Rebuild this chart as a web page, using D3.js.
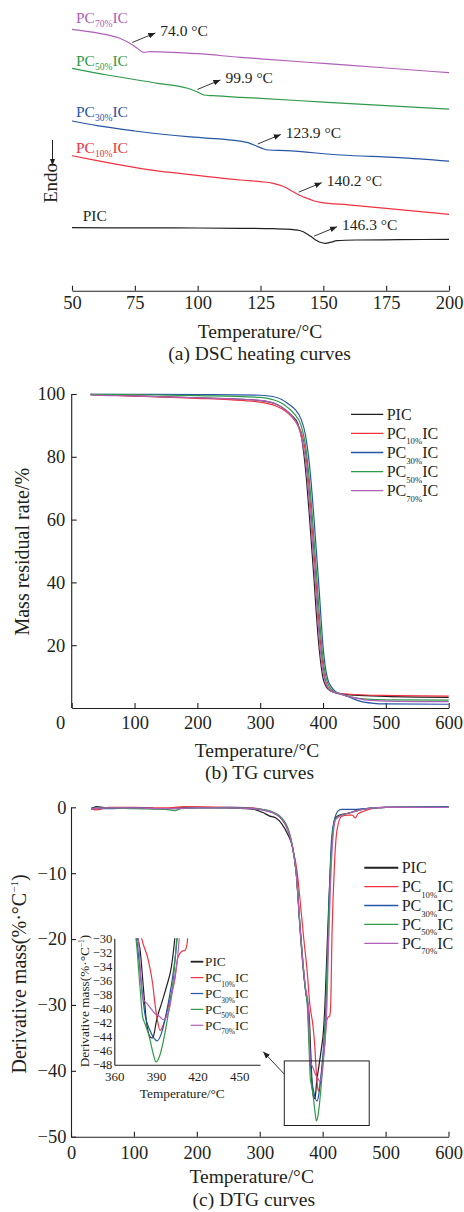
<!DOCTYPE html>
<html lang="en">
<head>
<meta charset="UTF-8">
<title>DSC, TG and DTG curves</title>
<script src="https://cdn.jsdelivr.net/npm/d3@7"></script>
<style>
  body { margin: 0; background: #fff; }
  svg { display: block; }
  text { font-family: "Liberation Serif", "Times New Roman", serif; fill: #231f20; }
  .domain, .tick line { stroke: #231f20; stroke-width: 1.1px; }
  .curve { fill: none; stroke-width: 1.2px; }
</style>
</head>
<body>
<svg width="464" height="1212"></svg>
<script>
// ---- data ----
const names = ["PIC", "PC", "PC", "PC", "PC"];
const subs = ["", "10%", "30%", "50%", "70%"];
const colors = ["#231f20", "#ef3340", "#2656a6", "#2f9a48", "#b060b8"];

// (a) DSC heat flow, arbitrary units (curves are offset)
const dscPIC = [[50,6.30],[80,6.28],[100,6.27],[117,6.24],[130,6.2],[137,6.14],[140,6.05],[142,5.9],[144,5.6],[145.5,5.34],[147.5,5.0],[148.8,4.84],[150.8,4.74],[153,4.85],[155.4,5.0],[163,5.07],[180,5.1],[200,5.14]];
const dscPC10 = [[50,13.5],[60,13.0],[77,12.24],[90,11.8],[104,11.4],[117,11.07],[125,10.9],[130,10.74],[134,10.45],[138,9.9],[141,9.5],[143.5,9.24],[146,9.0],[148.8,8.84],[160,8.58],[175,8.23],[200,7.64]];
const dscPC30 = [[50,16.97],[60,16.5],[75,15.97],[96,15.4],[110,15.15],[117,14.95],[120,14.8],[123.6,14.45],[126,14.2],[128.2,14.07],[135,14.0],[157,13.57],[180,13.3],[200,12.95]];
const dscPC50 = [[50,22.24],[64,21.57],[84,20.74],[96,20.24],[99.7,19.9],[102.4,19.57],[106,19.5],[117,19.34],[125,19.24],[150,18.85],[175,18.5],[200,18.15]];
const dscPC70 = [[50,26.14],[60,25.78],[69,25.24],[73,24.74],[76,24.24],[78.5,23.84],[81,23.9],[90,23.84],[100,23.7],[117,23.34],[125,23.19],[150,22.73],[175,22.27],[200,21.8]];
const tgValues = [146.3, 140.2, 123.9, 99.9, 74.0];   // PIC, PC10, PC30, PC50, PC70

// (b) TG, mass residual rate %
const massPIC = [[30,99.8],[60,99.6],[100,99.4],[150,99.1],[200,98.8],[250,98.5],[300,97.9],[325,96.8],[340,95],[350,93.2],[360,90.5],[366,86],[370,80],[374,72],[378,62],[382,51],[386,40],[389,31],[392,23],[396,15],[400,9.5],[405,6.8],[412,5.4],[425,4.6],[450,4.1],[500,3.7],[600,3.4]];
const massPC10 = [[30,99.9],[60,99.6],[100,99.3],[150,99.0],[200,98.6],[250,98.2],[300,97.4],[325,96.2],[340,94.6],[350,92.8],[360,90],[368,86],[373,80],[377,72],[381,62],[385,51],[389,40],[392,31],[395,23],[399,15],[403,9.5],[408,6.6],[414,5.3],[425,4.7],[450,4.3],[500,4.0],[600,3.8]];
const massPC30 = [[30,99.9],[100,99.9],[200,99.8],[300,99.6],[320,99.2],[335,98.2],[345,96.8],[355,95.2],[365,92],[372,87],[377,80],[381,72],[385,62],[389,51],[393,40],[396,31],[399,22],[403,14],[407,9.5],[413,6.8],[420,5.2],[428,4.5],[445,3.2],[460,2.1],[480,1.5],[500,1.3],[600,1.2]];
const massPC50 = [[30,99.9],[100,99.8],[200,99.5],[300,98.9],[320,98.2],[335,97],[345,95.5],[355,93.5],[365,90],[371,85],[375,79],[379,71],[383,61],[387,50],[391,39],[394,30],[397,22],[401,14],[405,9.5],[411,6.5],[418,5.1],[426,4.6],[445,3.5],[470,2.8],[500,2.6],[600,2.5]];
const massPC70 = [[30,99.7],[60,99.5],[100,99.4],[150,99.1],[200,98.8],[250,98.5],[300,98.0],[325,96.8],[340,95],[350,93],[360,90],[367,85],[372,79],[376,71],[380,61],[384,50],[388,39],[391,30],[394,22],[398,14],[402,9.5],[407,6.6],[414,5.3],[425,4.6],[445,3.5],[470,2.5],[500,2.2],[600,2.0]];

// (c) DTG, %/°C
const dtgPIC = [[32,-0.3],[40,0.1],[60,-0.1],[100,-0.1],[150,-0.2],[200,0],[250,-0.1],[290,-0.3],[305,-0.8],[315,-1.3],[325,-1.6],[335,-2.5],[345,-4.2],[352,-6],[358,-10],[364.4,-19],[369.7,-25.2],[374,-28.5],[378.5,-31.5],[380.9,-36.9],[383.3,-42.1],[385.7,-44],[387.3,-44.2],[388.8,-43.5],[390,-42.1],[394,-39.3],[397.6,-36.9],[401.2,-34],[403.6,-30],[406,-24],[410,-14],[415,-5],[420,-1.6],[426,-1.2],[440,-0.9],[457,-0.4],[475,-0.15],[500,0],[550,0],[600,0.05]];
const dtgPC10 = [[32,-0.2],[40,-0.4],[60,0],[100,0],[150,-0.1],[180,0.1],[250,0],[290,-0.1],[310,-0.5],[325,-1.0],[335,-1.8],[345,-3.5],[353,-6.5],[359,-9.5],[364,-14],[370,-20],[375,-24.5],[379.7,-30],[384.5,-33.1],[387.6,-36.4],[389.3,-39.3],[391,-41.6],[393,-43.1],[396.5,-41.6],[400,-38.8],[403.6,-35.9],[406,-32.6],[408.4,-31.9],[411,-31.7],[412.5,-30.7],[414.9,-19],[418.6,-9],[422.9,-3.4],[430,-1.4],[440,-1.2],[447,-1.2],[452,-1.6],[456,-1],[465,-0.6],[480,-0.15],[500,0],[600,0]];
const dtgPC30 = [[32,-0.1],[50,-0.2],[100,-0.1],[150,-0.2],[200,-0.1],[250,0],[290,-0.2],[310,-0.5],[325,-1.0],[335,-1.8],[345,-3.5],[352,-6],[358,-10],[364,-18],[369,-24],[373,-28],[376,-30],[379.7,-36.9],[382,-40.7],[385.7,-43.1],[391,-44.6],[394,-43.5],[398.8,-39.3],[402.4,-35],[405.3,-30],[408,-22],[411,-12],[414,-5],[419,-1.8],[425,-0.5],[430,-0.3],[450,-0.3],[480,-0.1],[500,0],[600,0.1]];
const dtgPC50 = [[32,-0.2],[60,-0.1],[100,-0.2],[150,-0.3],[165,-0.5],[175,-0.2],[200,-0.1],[250,-0.1],[290,-0.2],[310,-0.4],[325,-0.9],[335,-1.6],[345,-3.2],[352,-5.8],[358,-10],[364,-18],[369,-24],[373,-28],[375.6,-30],[378.5,-36.9],[380.4,-41.2],[382,-42.1],[385.2,-44],[388,-46.4],[390,-47.6],[392.4,-46.9],[396.5,-43.5],[400,-39.3],[403,-35],[405,-30],[408,-22],[411,-13],[415,-5],[420,-1.8],[430,-1.2],[445,-0.8],[460,-0.4],[480,-0.1],[500,0],[600,0]];
const dtgPC70 = [[32,-0.2],[60,-0.1],[100,-0.1],[150,-0.2],[200,-0.1],[250,-0.1],[290,-0.2],[310,-0.5],[325,-1.0],[335,-1.8],[345,-3.5],[352,-6],[358,-10],[364,-18],[369,-24],[373,-27.5],[377.3,-30],[379.2,-35.9],[380.4,-38.5],[384.5,-39.5],[389.3,-40.7],[393,-41.2],[395.2,-41.6],[398.8,-40.7],[402.4,-36.9],[406.8,-30],[409,-22],[412,-13],[416,-5],[421,-1.8],[430,-1.2],[445,-0.8],[460,-0.4],[480,-0.1],[500,0],[600,0]];

const dscData = [dscPIC, dscPC10, dscPC30, dscPC50, dscPC70];
const massData = [massPIC, massPC10, massPC30, massPC50, massPC70];
const dtgData = [dtgPIC, dtgPC10, dtgPC30, dtgPC50, dtgPC70];

const xTicksA = [50, 75, 100, 125, 150, 175, 200];
const xTicksT = [0, 100, 200, 300, 400, 500, 600];
const yTicksTG = [20, 40, 60, 80, 100];
const yTicksDTG = [0, -10, -20, -30, -40, -50];
const xTicksInset = [360, 390, 420, 450];
const yTicksInset = [-30, -32, -34, -36, -38, -40, -42, -44, -46, -48];
const zoomBox = [[339, -38.5], [474, -48.3]];   // rectangle marked in (c)

// ---- drawing ----
const svg = d3.select("svg");
const ink = "#231f20";

svg.append("defs").append("marker")
    .attr("id", "arrow")
    .attr("viewBox", "0 -5 10 10")
    .attr("refX", 10)
    .attr("refY", 0)
    .attr("markerWidth", 7)
    .attr("markerHeight", 7)
    .attr("markerUnits", "userSpaceOnUse")
    .attr("orient", "auto")
    .append("path")
    .attr("d", "M0,-4L10,0L0,4Z")
    .attr("fill", ink);

// writes "PIC" or "PC<sub>IC" into a text element
function seriesLabel(text, i, subSize, subDy) {
    if (!subs[i]) { text.append("tspan").text(names[i]); return; }
    text.append("tspan").text("PC");
    text.append("tspan").attr("font-size", subSize).attr("dy", subDy).text(subs[i]);
    text.append("tspan").attr("dy", -subDy).text("IC");
}

function styleAxis(g, size) {
    g.attr("font-family", null).attr("font-size", size);
    g.selectAll(".tick text").attr("fill", ink);
}

function lineFor(x, y) {
    return d3.line().x(d => x(d[0])).y(d => y(d[1])).curve(d3.curveMonotoneX);
}

// ===== (a) DSC =====
const xA = d3.scaleLinear().domain([50, 200]).range([72, 449]);
const yA = d3.scaleLinear().domain([0, 29]).range([290.7, 0.7]);
const lineA = lineFor(xA, yA);

svg.append("g")
    .attr("transform", "translate(0,290.7)")
    .call(d3.axisBottom(xA).tickValues(xTicksA).tickSizeInner(-5).tickSizeOuter(0).tickPadding(5.5))
    .call(g => styleAxis(g, 18.5));

svg.append("g").selectAll("path")
    .data(dscData)
    .join("path")
    .attr("class", "curve")
    .attr("stroke", (d, i) => colors[i])
    .attr("d", lineA);

// series names on the left
const dscLabelPos = [[82.7, 221], [76, 153.3], [76, 117.3], [76, 66], [76, 23.3]];
dscData.forEach((d, i) => {
    const t = svg.append("text")
        .attr("x", dscLabelPos[i][0])
        .attr("y", dscLabelPos[i][1])
        .attr("font-size", 15.5)
        .style("fill", colors[i]);
    seriesLabel(t, i, 9.5, 4);
});

// glass transition annotations
function valueAt(data, t) {
    for (let k = 1; k < data.length; k++) {
        if (data[k][0] >= t) {
            const a = data[k - 1], b = data[k];
            return a[1] + (b[1] - a[1]) * (t - a[0]) / (b[0] - a[0]);
        }
    }
    return data[data.length - 1][1];
}
tgValues.forEach((tg, i) => {
    const x0 = xA(tg), y0 = yA(valueAt(dscData[i], tg)) - 2.5;
    const x1 = x0 + 23, y1 = y0 - 9.5;
    svg.append("line")
        .attr("x1", x0).attr("y1", y0)
        .attr("x2", x1).attr("y2", y1)
        .attr("stroke", ink)
        .attr("stroke-width", 0.9)
        .attr("marker-end", "url(#arrow)");
    svg.append("text")
        .attr("x", x1 + 5)
        .attr("y", y1 + 3)
        .attr("font-size", 15.5)
        .text(tg.toFixed(1) + " °C");
});

// Endo label with a downward arrow
svg.append("text")
    .attr("transform", "translate(57.3,203) rotate(-90)")
    .attr("font-size", 19)
    .text("Endo");
svg.append("line")
    .attr("x1", 52.5).attr("y1", 140)
    .attr("x2", 52.5).attr("y2", 165.5)
    .attr("stroke", ink)
    .attr("stroke-width", 1)
    .attr("marker-end", "url(#arrow)");

svg.append("text").attr("x", 260).attr("y", 338.3).attr("text-anchor", "middle")
    .attr("font-size", 19.5).text("Temperature/°C");
svg.append("text").attr("x", 259.5).attr("y", 359.5).attr("text-anchor", "middle")
    .attr("font-size", 19.5).text("(a) DSC heating curves");

// ===== (b) TG =====
const xB = d3.scaleLinear().domain([0, 600]).range([71.7, 448.7]);
const yB = d3.scaleLinear().domain([0, 100]).range([708, 394]);
const lineB = lineFor(xB, yB);

svg.append("g")
    .attr("transform", "translate(0,708)")
    .call(d3.axisBottom(xB).tickValues(xTicksT).tickSizeInner(-5).tickSizeOuter(0).tickPadding(8))
    .call(g => styleAxis(g, 18.5))
    .call(g => g.selectAll(".tick text").filter(d => d === 0).attr("dx", -11.5));

svg.append("g")
    .attr("transform", "translate(71.7,0)")
    .call(d3.axisLeft(yB).tickValues(yTicksTG).tickSizeInner(-5).tickSizeOuter(0).tickPadding(6.5))
    .call(g => styleAxis(g, 18.5))
    .call(g => g.select(".domain").attr("d", "M0," + yB(0) + "V" + yB(100)));

svg.append("g").selectAll("path")
    .data(massData)
    .join("path")
    .attr("class", "curve")
    .attr("stroke", (d, i) => colors[i])
    .attr("d", lineB);

const legB = svg.append("g");
massData.forEach((d, i) => {
    const y = 414.3 + i * 19.1;
    legB.append("line").attr("x1", 351).attr("x2", 383.3).attr("y1", y).attr("y2", y)
        .attr("stroke", colors[i]).attr("stroke-width", 1.3);
    const t = legB.append("text").attr("x", 386.7).attr("y", y + 5.3).attr("font-size", 16);
    seriesLabel(t, i, 8.7, 5.7);
});

svg.append("text")
    .attr("transform", "translate(29.3,551.7) rotate(-90)")
    .attr("text-anchor", "middle")
    .attr("font-size", 20)
    .text("Mass residual rate/%");

svg.append("text").attr("x", 257).attr("y", 757.3).attr("text-anchor", "middle")
    .attr("font-size", 19.5).text("Temperature/°C");
svg.append("text").attr("x", 259.5).attr("y", 779.3).attr("text-anchor", "middle")
    .attr("font-size", 19.5).text("(b) TG curves");

// ===== (c) DTG =====
const xC = d3.scaleLinear().domain([0, 600]).range([71, 448.5]);
const yC = d3.scaleLinear().domain([-50, 0]).range([1136.7, 807.3]);
const lineC = lineFor(xC, yC);

svg.append("g")
    .attr("transform", "translate(0,1136.7)")
    .call(d3.axisBottom(xC).tickValues(xTicksT).tickSizeInner(-5).tickSizeOuter(0).tickPadding(9.5))
    .call(g => styleAxis(g, 18.5));

svg.append("g")
    .attr("transform", "translate(71,0)")
    .call(d3.axisLeft(yC).tickValues(yTicksDTG).tickSizeInner(-5).tickSizeOuter(0).tickPadding(4.5))
    .call(g => styleAxis(g, 18.5));

svg.append("g").selectAll("path")
    .data(dtgData)
    .join("path")
    .attr("class", "curve")
    .attr("stroke", (d, i) => colors[i])
    .attr("d", lineC);

// zoom rectangle and pointer to the inset
svg.append("rect")
    .attr("x", xC(zoomBox[0][0]))
    .attr("y", yC(zoomBox[0][1]))
    .attr("width", xC(zoomBox[1][0]) - xC(zoomBox[0][0]))
    .attr("height", yC(zoomBox[1][1]) - yC(zoomBox[0][1]))
    .attr("fill", "none")
    .attr("stroke", ink)
    .attr("stroke-width", 1);
svg.append("line")
    .attr("x1", xC(zoomBox[0][0])).attr("y1", yC(-40.5))
    .attr("x2", xC(305.5)).attr("y2", yC(-37.1))
    .attr("stroke", ink)
    .attr("stroke-width", 0.9)
    .attr("marker-end", "url(#arrow)");

const legC = svg.append("g");
dtgData.forEach((d, i) => {
    const y = 867.7 + i * 18.9;
    legC.append("line").attr("x1", 364.3).attr("x2", 398.3).attr("y1", y).attr("y2", y)
        .attr("stroke", colors[i]).attr("stroke-width", i === 0 ? 2 : 1.3);
    const t = legC.append("text").attr("x", 401.7).attr("y", y + 5.3).attr("font-size", 16);
    seriesLabel(t, i, 8.7, 5.7);
});

const yTitleC = svg.append("text")
    .attr("transform", "translate(26,974) rotate(-90)")
    .attr("text-anchor", "middle")
    .attr("font-size", 20);
yTitleC.append("tspan").text("Derivative mass(%·°C");
yTitleC.append("tspan").attr("font-size", 11).attr("dy", -8).text("−1");
yTitleC.append("tspan").attr("dy", 8).text(")");

svg.append("text").attr("x", 251.7).attr("y", 1182.7).attr("text-anchor", "middle")
    .attr("font-size", 19.5).text("Temperature/°C");
svg.append("text").attr("x", 253.8).attr("y", 1206).attr("text-anchor", "middle")
    .attr("font-size", 19.5).text("(c) DTG curves");

// ----- inset -----
const xI = d3.scaleLinear().domain([360, 465]).range([114.3, 260]);
const yI = d3.scaleLinear().domain([-48, -30]).range([1064.7, 938.3]);
const lineI = lineFor(xI, yI);

svg.append("clipPath").attr("id", "insetClip")
    .append("rect")
    .attr("x", xI(360)).attr("y", yI(-30))
    .attr("width", xI(465) - xI(360)).attr("height", yI(-48) - yI(-30));

svg.append("g")
    .attr("transform", "translate(0,1064.7)")
    .call(d3.axisBottom(xI).tickValues(xTicksInset).tickSize(0).tickPadding(7))
    .call(g => styleAxis(g, 13));

svg.append("g")
    .attr("transform", "translate(114.3,0)")
    .call(d3.axisLeft(yI).tickValues(yTicksInset).tickSize(0).tickPadding(2))
    .call(g => styleAxis(g, 12.5));

svg.append("g")
    .attr("clip-path", "url(#insetClip)")
    .selectAll("path")
    .data(dtgData)
    .join("path")
    .attr("class", "curve")
    .attr("stroke", (d, i) => colors[i])
    .attr("d", lineI);

const legI = svg.append("g");
dtgData.forEach((d, i) => {
    const y = 961.7 + i * 15.9;
    legI.append("line").attr("x1", 190.7).attr("x2", 203.3).attr("y1", y).attr("y2", y)
        .attr("stroke", colors[i]).attr("stroke-width", i === 0 ? 1.8 : 1.2);
    const t = legI.append("text").attr("x", 205).attr("y", y + 4.5).attr("font-size", 13.3);
    seriesLabel(t, i, 7.5, 4.5);
});

const yTitleI = svg.append("text")
    .attr("transform", "translate(89,1001) rotate(-90)")
    .attr("text-anchor", "middle")
    .attr("font-size", 13.3);
yTitleI.append("tspan").text("Derivative mass(%·°C");
yTitleI.append("tspan").attr("font-size", 7.5).attr("dy", -5).text("−1");
yTitleI.append("tspan").attr("dy", 5).text(")");

svg.append("text").attr("x", 182.3).attr("y", 1097.5).attr("text-anchor", "middle")
    .attr("font-size", 13.3).text("Temperature/°C");
</script>
</body>
</html>
